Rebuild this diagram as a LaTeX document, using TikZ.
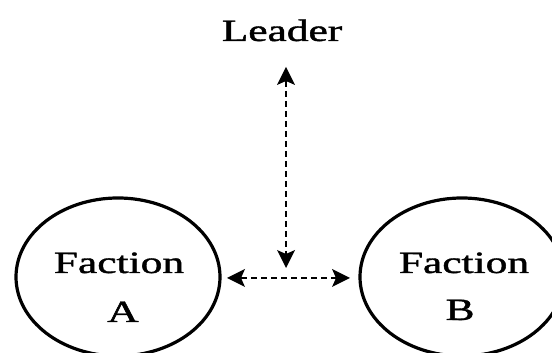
\documentclass[tikz,border=0pt]{standalone}
\usepackage{fontspec}
\usepackage{graphicx}
\setmainfont{Liberation Serif}[FakeBold=1.2]
\usetikzlibrary{shapes.geometric}
\tikzset{
  faction/.style={ellipse, draw, line width=3.2pt, inner sep=0pt, minimum width=204pt, minimum height=158pt},
  lbl/.style={anchor=base, inner sep=0pt, font=\fontsize{31}{37}\selectfont},
  link/.style={line width=1.7pt, dash pattern=on 6pt off 4pt},
  head/.pic={\fill (0,0) -- (-18,9) -- (-14,0) -- (-18,-9) -- cycle;}
}
\newcommand{\wide}[1]{\scalebox{1.4}[1]{#1}}
\begin{document}
\begin{tikzpicture}[x=1pt,y=1pt]
\useasboundingbox (0,0) rectangle (552,353);
\node[faction] (fa) at (118,76) {};
\node[faction] (fb) at (462,76) {};
\node[lbl] (fat) at (119,80) {\wide{Faction}};
\node[lbl] (faa) at (123,31) {\wide{A}};
\node[lbl] (fbt) at (464,80) {\wide{Faction}};
\node[lbl] (fbb) at (460,33) {\wide{B}};
\node[lbl] (leader) at (282,312) {\wide{Leader}};
\coordinate (vtop) at (286,286);
\coordinate (vbot) at (286,85);
\coordinate (hl) at (227,75);
\coordinate (hr) at (350,75);
\draw[link] ([yshift=-14pt]vtop) -- ([yshift=14pt]vbot);
\draw[link] ([xshift=14pt]hl) -- ([xshift=-14pt]hr);
\pic[rotate=90] at (vtop) {head};
\pic[rotate=-90] at (vbot) {head};
\pic[rotate=180] at (hl) {head};
\pic at (hr) {head};
\end{tikzpicture}
\end{document}
